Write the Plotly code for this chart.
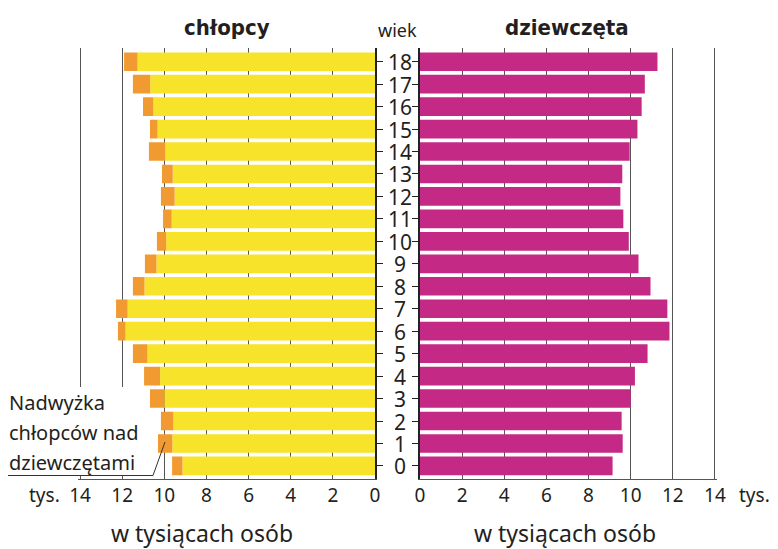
import plotly.graph_objects as go

ages = list(range(19))
girls = [9.14, 9.62, 9.57, 10.0, 10.2, 10.8, 11.84, 11.74, 10.94, 10.37,
         9.91, 9.65, 9.51, 9.6, 9.95, 10.32, 10.52, 10.67, 11.27]
boys = [9.63, 10.3, 10.16, 10.68, 10.96, 11.49, 12.2, 12.29, 11.49, 10.92,
        10.35, 10.06, 10.16, 10.11, 10.73, 10.68, 11.01, 11.49, 11.91]
excess = [round(b - g, 2) for b, g in zip(boys, girls)]
xticks = [0, 2, 4, 6, 8, 10, 12, 14]

YELLOW = "#F6E32A"
ORANGE = "#F29A32"
MAGENTA = "#C32985"
TXT = "#231F20"
GRID = "#555555"
FONT = "Noto Sans"
TITLE_FONT = "Liberation Sans Narrow, DejaVu Sans Condensed, DejaVu Sans"

# page body has an 8px margin: lay out in reference pixel coordinates, shifted
OFF = 8
W, H = 778 - OFF, 549 - OFF
def px(x):
    return (x - OFF) / W
def py(y):
    return (H - (y - OFF)) / H

K = 21.07          # pixels per thousand
XMAX = 14.1
yr = [-0.56, 18.61]
ydom = [py(478.5), py(48)]

fig = go.Figure()
fig.add_trace(go.Bar(y=ages, x=girls, orientation="h", marker=dict(color=YELLOW, line=dict(width=0)),
                     xaxis="x", yaxis="y", width=0.83, showlegend=False))
fig.add_trace(go.Bar(y=ages, x=excess, base=girls, orientation="h", marker=dict(color=ORANGE, line=dict(width=0)),
                     xaxis="x", yaxis="y", width=0.83, showlegend=False))
fig.add_trace(go.Bar(y=ages, x=girls, orientation="h", marker=dict(color=MAGENTA, line=dict(width=0)),
                     xaxis="x2", yaxis="y2", width=0.83, showlegend=False))

common_x = dict(tickvals=xticks, ticktext=[str(v) for v in xticks], showgrid=True, gridcolor=GRID,
                gridwidth=1, zeroline=False, showline=True, linecolor=GRID, linewidth=1,
                ticks="", tickfont=dict(family=FONT, size=19, color=TXT), fixedrange=True,
                automargin=False)
common_y = dict(range=yr, domain=ydom, showline=True, linecolor="#222", linewidth=2,
                ticks="outside", ticklen=6, tickcolor="#222", tickvals=ages,
                showticklabels=False, showgrid=False, zeroline=False, automargin=False,
                fixedrange=True)
fig.update_layout(
    width=W, height=H, margin=dict(l=0, r=0, t=0, b=0, pad=0, autoexpand=False),
    paper_bgcolor="white", plot_bgcolor="rgba(0,0,0,0)",
    barmode="overlay",
    xaxis=dict(domain=[px(375 - XMAX * K), px(375)], range=[XMAX, 0], anchor="y", **common_x),
    xaxis2=dict(domain=[px(420), px(420 + XMAX * K)], range=[0, XMAX], anchor="y2", **common_x),
    yaxis=dict(anchor="x", side="right", **common_y),
    yaxis2=dict(anchor="x2", side="left", **common_y),
)

# age labels
for a in ages:
    fig.add_annotation(x=px(399.5), xref="paper", y=a, yref="y", text=str(a), showarrow=False,
                       font=dict(family=FONT, size=21, color=TXT), xanchor="center", yanchor="middle",
                       height=21, valign="middle")

ann = [
    (px(397), py(30), "wiek", dict(family=FONT, size=18, color=TXT)),
    (px(227), py(27), "<b>chłopcy</b>", dict(family=TITLE_FONT, size=22, color=TXT)),
    (px(567), py(27), "<b>dziewczęta</b>", dict(family=TITLE_FONT, size=22, color=TXT)),
    (px(44), py(495), "tys.", dict(family=FONT, size=19, color=TXT)),
    (px(754), py(495), "tys.", dict(family=FONT, size=19, color=TXT)),
    (px(202), py(533), "w tysiącach osób", dict(family=FONT, size=23, color=TXT)),
    (px(565), py(533), "w tysiącach osób", dict(family=FONT, size=23, color=TXT)),
]
for x, y, t, f in ann:
    fig.add_annotation(x=x, y=y, xref="paper", yref="paper", text=t, showarrow=False, font=f,
                       xanchor="center", yanchor="middle")

for i, t in enumerate(["Nadwyżka", "chłopców nad", "dziewczętami"]):
    fig.add_annotation(x=px(7), y=py(402 + 30 * i), xref="paper", yref="paper", text=t, showarrow=False,
                       font=dict(family=FONT, size=20, color=TXT), xanchor="left", yanchor="middle")

# white box behind callout text (hides grid, stays below bars)
fig.add_shape(type="rect", xref="x", yref="y", x0=XMAX + 0.5, x1=(375 - 150) / K,
              y0=(466 - 476) / 22.46, y1=(466 - 387) / 22.46,
              fillcolor="white", line=dict(width=0), layer="between")
fig.add_shape(type="path", xref="paper", yref="paper",
              path=f"M {px(OFF)},{py(475.5)} L {px(153)},{py(475.5)} L {px(165)},{py(442)}",
              line=dict(color="#333", width=1))

fig.write_html("out.html")
